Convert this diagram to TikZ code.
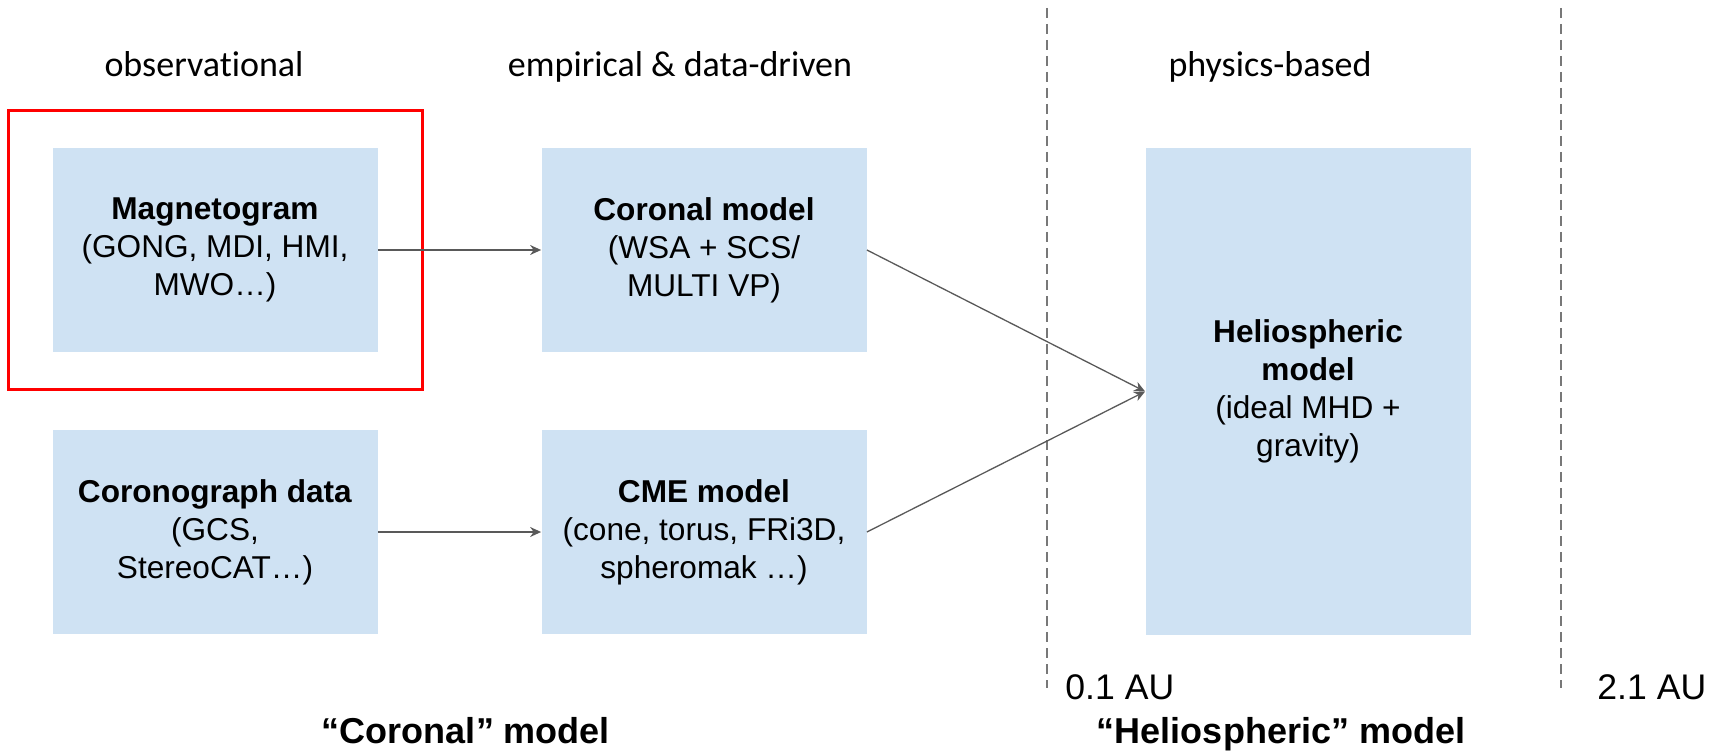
\documentclass[tikz,border=0pt]{standalone}
\usepackage{fontspec}
\setmainfont{Liberation Sans}
\newfontfamily\headfont[Ligatures=NoCommon]{Carlito}
\usepackage{tikz}
\usetikzlibrary{arrows.meta}
\definecolor{modelblue}{HTML}{CFE2F3}
\definecolor{arrowgray}{RGB}{89,89,89}
\definecolor{dashgray}{RGB}{120,120,120}

\begin{document}
\begin{tikzpicture}[x=0.5pt, y=-0.5pt, node distance=141pt]
    \tikzstyle{model} = [rectangle, minimum width=162.5pt, minimum height=102pt, inner sep=2pt, align=center, fill=modelblue, font=\fontsize{15.8}{19}\selectfont]
    \tikzstyle{highlight} = [rectangle, draw=red, line width=1.5pt, minimum width=207pt, minimum height=139.5pt]
    \tikzstyle{heading} = [inner sep=0pt, anchor=base, font=\headfont\fontsize{18}{22}\selectfont]
    \tikzstyle{region} = [inner sep=0pt, anchor=base, font=\bfseries\fontsize{18}{22}\selectfont]
    \tikzstyle{aulabel} = [inner sep=0pt, anchor=base west, font=\fontsize{17.8}{21}\selectfont]
    \tikzstyle{flow} = [draw=arrowgray, line width=0.65pt, -{Stealth[length=5.5pt, width=5pt]}]
    \tikzstyle{boundary} = [draw=dashgray, line width=0.7pt, dash pattern=on 5pt off 3pt]

    \useasboundingbox (0,0) rectangle (1712,754);

    % Column headings
    \node [heading] (obs) at (204,77) {observational};
    \node [heading] (emp) at (680,77) {empirical \& data-driven};
    \node [heading] (phys) at (1270,77) {physics-based};

    % Model boxes
    \node [model] (mag) at (215,250) {\textbf{Magnetogram}\\(GONG, MDI, HMI,\\MWO…)};
    \node [model, right of=mag, xshift=103.5pt] (coronal) {\textbf{Coronal model}\\(WSA + SCS/\\MULTI VP)};
    \node [model, below of=mag] (coronograph) {\textbf{Coronograph data}\\(GCS,\\StereoCAT…)};
    \node [model, right of=coronograph, xshift=103.5pt] (cme) {\textbf{CME model}\\(cone, torus, FRi3D,\\spheromak …)};
    \node [model, minimum height=243.5pt] (helio) at (1308,391.5) {\textbf{Heliospheric}\\\textbf{model}\\(ideal MHD +\\gravity)};
    \node [highlight] (focus) at (mag) {};

    % Domain boundaries
    \coordinate (inner top) at (1047,8);
    \coordinate (inner bottom) at (1047,688);
    \coordinate (outer top) at (1561,8);
    \coordinate (outer bottom) at (1561,688);
    \draw [boundary] (inner top) -- (inner bottom);
    \draw [boundary] (outer top) -- (outer bottom);
    \node [aulabel] (au inner) at (1065,699) {0.1 AU};
    \node [aulabel] (au outer) at (1597,699) {2.1 AU};

    % Model groups
    \node [region] (coronal group) at (466,743) {“Coronal” model};
    \node [region] (helio group) at (1281,743) {“Heliospheric” model};

    % Arrows
    \draw [flow] (mag) -- (coronal);
    \draw [flow] (coronograph) -- (cme);
    \draw [flow] (coronal.east) -- (helio.west);
    \draw [flow] (cme.east) -- (helio.west);
\end{tikzpicture}
\end{document}
